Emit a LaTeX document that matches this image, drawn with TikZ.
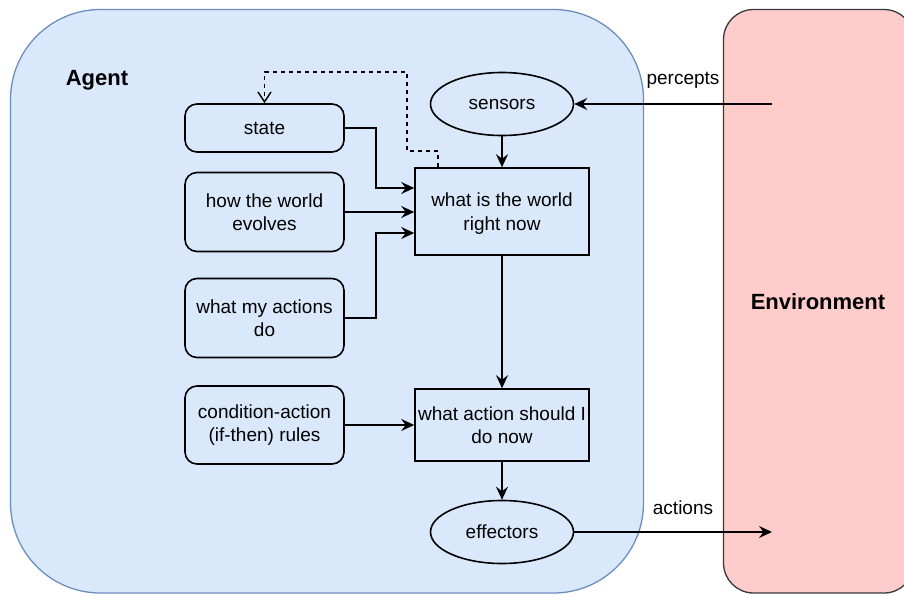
\documentclass[tikz,border=0pt]{standalone}
\usepackage{fontspec}
\setmainfont{Liberation Sans}
\usetikzlibrary{arrows.meta,shapes.geometric,calc}

\definecolor{agentfill}{HTML}{DAE8FC}
\definecolor{agentline}{HTML}{6C8EBF}
\definecolor{envfill}{HTML}{FFCCCC}
\definecolor{envline}{HTML}{36393D}

\tikzset{
  every node/.style={font=\fontsize{19}{23.5}\selectfont, inner sep=0pt},
  lbl/.style={font=\fontsize{22}{26}\selectfont\bfseries},
  roundbox/.style={draw, line width=1.6pt, rounded corners=12pt, minimum width=159pt, align=center},
  sqbox/.style={draw, line width=1.6pt, minimum width=174pt, align=center},
  ellbox/.style={draw, ellipse, line width=1.6pt, minimum width=143pt, minimum height=63pt},
  arr/.style={line width=1.6pt, -{Stealth[length=13pt,width=12pt,inset=4.5pt]}},
  fbarr/.style={line width=1.5pt, dashed, dash pattern=on 4.5pt off 3.5pt, -{Straight Barb[length=10pt,width=13pt,line width=1.4pt]}}
}

\begin{document}
\begin{tikzpicture}[x=1pt,y=-1pt]
  \useasboundingbox (0,0) rectangle (904,595);

  % containers
  \draw[agentline, fill=agentfill, line width=1.3pt, rounded corners=90pt] (10.5,9.5) rectangle (643.5,593);
  \draw[envline, fill=envfill, line width=1.3pt, rounded corners=30pt] (723.5,9.5) rectangle (914,593);

  \node[lbl] (agentlbl) at (97,80) {Agent};
  \node[lbl] (envlbl) at (818,302) {Environment};

  % internal knowledge boxes
  \node[roundbox, minimum height=48pt] (state) at (264.5,128) {state};
  \node[roundbox, minimum height=79pt] (evolves) at (264.5,212) {how the world\\evolves};
  \node[roundbox, minimum height=79pt] (actdo) at (264.5,318) {what my actions\\do};
  \node[roundbox, minimum height=78pt] (rules) at (264.5,425) {condition-action\\(if-then) rules};

  % processing chain
  \node[ellbox] (sensors) at (502,104) {sensors};
  \node[sqbox, minimum height=87pt] (world) at (502,211.5) {what is the world\\\raisebox{0pt}[\height][0pt]{right now}};
  \node[sqbox, minimum height=72pt] (action) at (502,425) {what action should I\\do now};
  \node[ellbox] (effectors) at (502,532) {effectors};

  % environment interface
  \coordinate (percin) at (772,104);
  \coordinate (actout) at (772,532);
  \node (perclbl) at (683,80) {percepts};
  \node (actlbl) at (683,508) {actions};

  \draw[arr] (percin) -- (sensors.east);
  \draw[arr] (effectors.east) -- (actout);

  \draw[arr] (sensors.south) -- (world.north);
  \draw[arr] (state.east) -- ++(31,0) |- ([yshift=23.5pt]world.west);
  \draw[arr] (evolves.east) -- (evolves.east -| world.west);
  \draw[arr] (actdo.east) -- ++(31,0) |- ([yshift=-21.5pt]world.west);
  \draw[arr] (world.south) -- (action.north);
  \draw[arr] (rules.east) -- (rules.east -| action.west);
  \draw[arr] (action.south) -- (effectors.north);

  % state update feedback
  \draw[fbarr] ([xshift=-64pt]world.north) -- ++(0,-16) -- ++(-31,0) -- ++(0,-79) -| (state.north);
\end{tikzpicture}
\end{document}
